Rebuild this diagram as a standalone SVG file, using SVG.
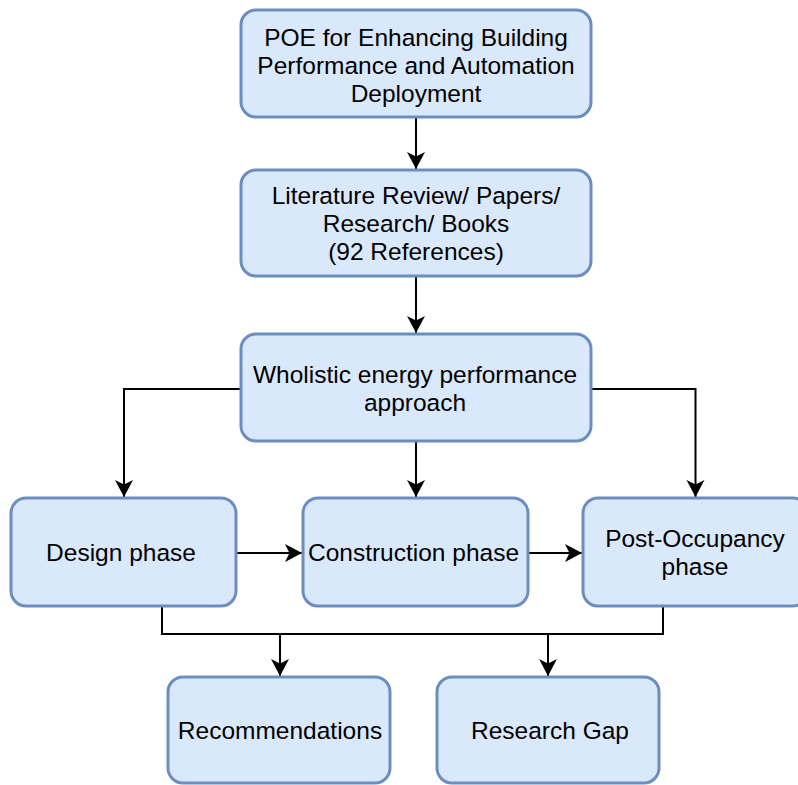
<svg xmlns="http://www.w3.org/2000/svg" width="798" height="785" viewBox="0 0 798 785">
  <style>
    .box { fill: #dae8fc; stroke: #6c8ebf; stroke-width: 3; }
    .lbl { font-family: "Liberation Sans", Arial, Helvetica, sans-serif; font-size: 24.5px; fill: #000; text-anchor: middle; }
    .edge { fill: none; stroke: #000; stroke-width: 2; }
  </style>
  <defs>
    <marker id="arrow" markerUnits="userSpaceOnUse" markerWidth="20" markerHeight="20" viewBox="-18 -10 20 20" refX="0" refY="0" orient="auto">
      <path d="M0,0 L-17,-9 L-12.5,0 L-17,9 Z" fill="#000"/>
    </marker>
  </defs>
  <rect width="798" height="785" fill="#fff"/>

  <g id="connectors">
    <path class="edge" d="M416,117 V169" marker-end="url(#arrow)"/>
    <path class="edge" d="M416,276 V333" marker-end="url(#arrow)"/>
    <path class="edge" d="M241,389 H124 V497" marker-end="url(#arrow)"/>
    <path class="edge" d="M416,441 V497" marker-end="url(#arrow)"/>
    <path class="edge" d="M591,389 H695.5 V497" marker-end="url(#arrow)"/>
    <path class="edge" d="M236,553 H302" marker-end="url(#arrow)"/>
    <path class="edge" d="M528,553 H582" marker-end="url(#arrow)"/>
    <path class="edge" d="M162,606 V634 H663 V606"/>
    <path class="edge" d="M280,634 V676" marker-end="url(#arrow)"/>
    <path class="edge" d="M548,634 V676" marker-end="url(#arrow)"/>
  </g>

  <g id="poe">
    <rect class="box" x="241" y="10" width="350" height="107" rx="15"/>
    <text class="lbl" x="416" y="46">POE for Enhancing Building</text>
    <text class="lbl" x="416" y="74">Performance and Automation</text>
    <text class="lbl" x="416" y="102">Deployment</text>
  </g>

  <g id="literature">
    <rect class="box" x="241" y="170" width="350" height="106" rx="15"/>
    <text class="lbl" x="416" y="204">Literature Review/ Papers/</text>
    <text class="lbl" x="416" y="232">Research/ Books</text>
    <text class="lbl" x="416" y="260">(92 References)</text>
  </g>

  <g id="wholistic">
    <rect class="box" x="241" y="334" width="350" height="107" rx="15"/>
    <text class="lbl" x="415" y="383">Wholistic energy performance</text>
    <text class="lbl" x="415" y="411">approach</text>
  </g>

  <g id="design">
    <rect class="box" x="11" y="498" width="225" height="108" rx="15"/>
    <text class="lbl" x="121" y="561">Design phase</text>
  </g>

  <g id="construction">
    <rect class="box" x="303" y="498" width="225" height="108" rx="15"/>
    <text class="lbl" x="413.5" y="561">Construction phase</text>
  </g>

  <g id="post-occupancy">
    <rect class="box" x="583" y="498" width="225" height="108" rx="15"/>
    <text class="lbl" x="695" y="547">Post-Occupancy</text>
    <text class="lbl" x="695" y="575">phase</text>
  </g>

  <g id="recommendations">
    <rect class="box" x="168" y="677" width="222" height="106" rx="15"/>
    <text class="lbl" x="280" y="739">Recommendations</text>
  </g>

  <g id="research-gap">
    <rect class="box" x="437" y="677" width="222" height="106" rx="15"/>
    <text class="lbl" x="550" y="739">Research Gap</text>
  </g>
</svg>
